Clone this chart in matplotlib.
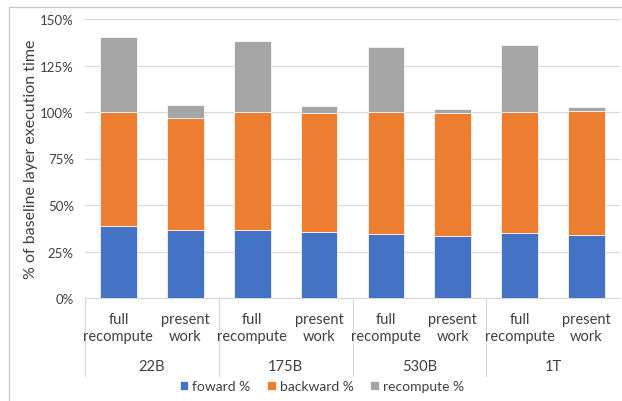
import numpy as np
import matplotlib.pyplot as plt
from matplotlib.lines import Line2D
from matplotlib.ticker import PercentFormatter

plt.rcParams['font.family'] = ['Lato', 'DejaVu Sans']

# dati
models = ['22B', '175B', '530B', '1T']
methods = ['full\nrecompute', 'present\nwork']
forward = [38.9, 36.6, 36.6, 35.5, 34.2, 33.2, 34.9, 33.9]
backward = [61.1, 60.3, 63.4, 63.8, 65.8, 66.1, 65.1, 66.8]
recompute = [40.5, 7.0, 38.2, 3.8, 35.0, 2.1, 36.2, 1.8]

blue = '#4472C4'
orange = '#ED7D31'
gray = '#A5A5A5'
txt = '#404040'

fig = plt.figure(figsize=(6.22, 4.02), dpi=100)
ax = fig.add_axes([85 / 622, 1 - 299 / 402, 535 / 622, 279 / 402])

# bordo del grafico (sinistra e in alto)
fig.add_artist(Line2D([9 / 622, 9 / 622], [0, 1 - 8 / 402], color='#C8C8C8', linewidth=0.9))
fig.add_artist(Line2D([9 / 622, 1], [1 - 8 / 402, 1 - 8 / 402], color='#C8C8C8', linewidth=0.9))

x = np.arange(len(forward))
fw = np.array(forward)
bw = np.array(backward)
w = 0.55
ax.bar(x, fw, w, color=blue, label='foward %', zorder=3, edgecolor='white', linewidth=0.5)
ax.bar(x, bw, w, bottom=fw, color=orange, label='backward %', zorder=3, edgecolor='white', linewidth=0.5)
ax.bar(x, recompute, w, bottom=fw + bw, color=gray, label='recompute %', zorder=3, edgecolor='white', linewidth=0.5)

ax.set_xlim(-0.5, len(forward) - 0.5)
ax.set_ylim(0, 150)
ax.set_yticks(np.arange(0, 151, 25))
ax.yaxis.set_major_formatter(PercentFormatter(decimals=0))
ax.grid(axis='y', color='#D9D9D9', linewidth=0.9, zorder=0)
for s in ['top', 'right', 'left']:
    ax.spines[s].set_visible(False)
ax.spines['bottom'].set_color('#D9D9D9')
ax.tick_params(axis='y', length=0, labelsize=9.5, colors=txt, pad=8)
ax.set_xticks([])
ax.set_ylabel('% of baseline layer execution time', fontsize=11.5, color=txt)
ax.yaxis.set_label_coords(-47 / 535, 0.5)

# etichette a due livelli
for i in range(len(forward)):
    ax.text(i, -7.5, methods[i % 2], ha='center', va='top', fontsize=10.5,
            color=txt, clip_on=False, linespacing=1.25)
for g, m in enumerate(models):
    ax.text(2 * g + 0.5, -33, m, ha='center', va='top', fontsize=10.5,
            color=txt, clip_on=False)
for g in range(len(models)):
    ax.plot([2 * g - 0.5, 2 * g - 0.5], [0, -42], color='#D9D9D9', linewidth=0.9,
            clip_on=False)

fig.legend(loc='center', bbox_to_anchor=(322 / 622, 1 - 387 / 402), ncol=3, frameon=False,
           fontsize=10, handlelength=0.6, handleheight=0.6, handletextpad=0.3,
           columnspacing=1.2, labelcolor=txt)

plt.savefig('out.png', dpi=100)
